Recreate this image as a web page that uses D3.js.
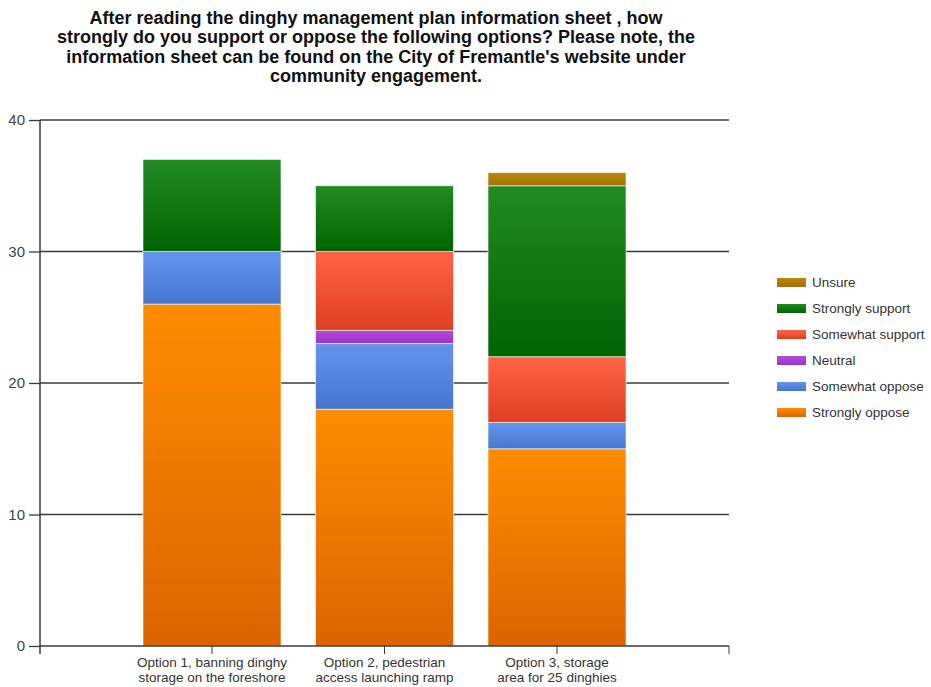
<!DOCTYPE html>
<html><head><meta charset="utf-8">
<script src="https://cdn.jsdelivr.net/npm/d3@7"></script>
<style>body{margin:0;background:#fff}svg{display:block}</style>
</head><body>
<script>
const categories = [
  ["Option 1, banning dinghy", "storage on the foreshore"],
  ["Option 2, pedestrian", "access launching ramp"],
  ["Option 3, storage", "area for 25 dinghies"]
];
const seriesNames = ["Strongly oppose","Somewhat oppose","Neutral","Somewhat support","Strongly support","Unsure"];
const stronglyOppose  = [26, 18, 15];
const somewhatOppose  = [4, 5, 2];
const neutral         = [0, 1, 0];
const somewhatSupport = [0, 6, 5];
const stronglySupport = [7, 5, 13];
const unsure          = [0, 0, 1];
const yTicks = [0, 10, 20, 30, 40];
const titleLines = [
  "After reading the dinghy management plan information sheet , how",
  "strongly do you support or oppose the following options? Please note, the",
  "information sheet can be found on the City of Fremantle's website under",
  "community engagement."
];
const colorsTop    = ["#FF8C00","#6495ED","#B24FD6","#FF6347","#228B22","#B8860B"];
const colorsBottom = ["#DC6400","#4676CF","#9932CC","#DF3F22","#006400","#A6700A"];

const seriesValues = [stronglyOppose, somewhatOppose, neutral, somewhatSupport, stronglySupport, unsure];
const catKeys = categories.map(c => c.join(" "));
const table = catKeys.map((k, i) => {
  const o = {cat: k};
  seriesNames.forEach((s, j) => o[s] = seriesValues[j][i]);
  return o;
});

const W = 931, H = 687;
const mLeft = 40, mRight = 729, mTop = 120, mBottom = 646;
const svg = d3.select("body").append("svg").attr("width", W).attr("height", H);
const defs = svg.append("defs");
seriesNames.forEach((s, j) => {
  const g = defs.append("linearGradient").attr("id", "g" + j).attr("x1", 0).attr("y1", 0).attr("x2", 0).attr("y2", 1);
  g.append("stop").attr("offset", "0%").attr("stop-color", colorsTop[j]);
  g.append("stop").attr("offset", "100%").attr("stop-color", colorsBottom[j]);
});

const x = d3.scaleBand().domain(catKeys).range([mLeft, mRight]).paddingInner(0.2).paddingOuter(0.597);
const y = d3.scaleLinear().domain([0, 40]).range([mBottom, mTop]);

// title
const title = svg.append("text").attr("x", 376).attr("text-anchor", "middle")
  .attr("font-family", "Arial, 'Liberation Sans', sans-serif").attr("font-weight", "bold")
  .attr("font-size", 18).attr("fill", "#111");
titleLines.forEach((t, i) => title.append("tspan").attr("x", 376).attr("y", 24 + i * 19.3).text(t));

// gridlines
svg.append("g").selectAll("line").data(yTicks.filter(d => d > 0)).join("line")
  .attr("x1", mLeft).attr("x2", mRight).attr("y1", d => y(d)).attr("y2", d => y(d))
  .attr("stroke", "#3a3a3a").attr("stroke-width", 1.5);

// bars
const stack = d3.stack().keys(seriesNames)(table);
svg.append("g").selectAll("g").data(stack).join("g")
  .attr("fill", (d, j) => `url(#g${j})`)
  .selectAll("rect").data(d => d.filter(p => p[1] - p[0] > 0)).join("rect")
  .attr("x", d => x(d.data.cat)).attr("width", x.bandwidth())
  .attr("y", d => y(d[1])).attr("height", d => y(d[0]) - y(d[1]))
  .attr("stroke", "rgba(255,255,255,0.6)").attr("stroke-width", 1);

// y axis
const yAxis = d3.axisLeft(y).tickValues(yTicks).tickSize(11).tickPadding(4).tickFormat(d3.format("d"));
const ya = svg.append("g").attr("transform", `translate(${mLeft},0)`).call(yAxis);
ya.select(".domain").remove();
ya.selectAll("line").attr("stroke", "#3a3a3a").attr("stroke-width", 1.3);
ya.selectAll("text").attr("font-family", "Arial, 'Liberation Sans', sans-serif").attr("font-size", 15).attr("fill", "#444");
svg.append("line").attr("x1", mLeft).attr("x2", mLeft).attr("y1", mTop).attr("y2", mBottom + 8).attr("stroke", "#3a3a3a").attr("stroke-width", 1.5);

// x axis
const xAxis = d3.axisBottom(x).tickSize(8).tickFormat("");
const xa = svg.append("g").attr("transform", `translate(0,${mBottom})`).call(xAxis);
xa.select(".domain").remove();
xa.selectAll("line").attr("stroke", "#3a3a3a");
svg.append("line").attr("x1", mLeft).attr("x2", mRight).attr("y1", mBottom).attr("y2", mBottom).attr("stroke", "#3a3a3a").attr("stroke-width", 1.5);
svg.append("line").attr("x1", mRight).attr("x2", mRight).attr("y1", mBottom).attr("y2", mBottom + 8).attr("stroke", "#3a3a3a");
xa.selectAll(".tick").each(function(d, i) {
  const t = d3.select(this).append("text").attr("text-anchor", "middle")
    .attr("font-family", "Arial, 'Liberation Sans', sans-serif").attr("font-size", 13.5).attr("fill", "#333");
  categories[i].forEach((line, k) => t.append("tspan").attr("x", 0).attr("y", 21 + k * 14.5).text(line));
});

// legend
const legendOrder = seriesNames.slice().reverse();
const lg = svg.append("g").selectAll("g").data(legendOrder).join("g")
  .attr("transform", (d, i) => `translate(777,${282 + i * 26})`);
lg.append("rect").attr("x", 0).attr("y", -4).attr("width", 29).attr("height", 9)
  .attr("fill", d => `url(#g${seriesNames.indexOf(d)})`);
lg.append("text").attr("x", 35).attr("y", 5).text(d => d)
  .attr("font-family", "Arial, 'Liberation Sans', sans-serif").attr("font-size", 13.5).attr("fill", "#333");
</script>
</body></html>
